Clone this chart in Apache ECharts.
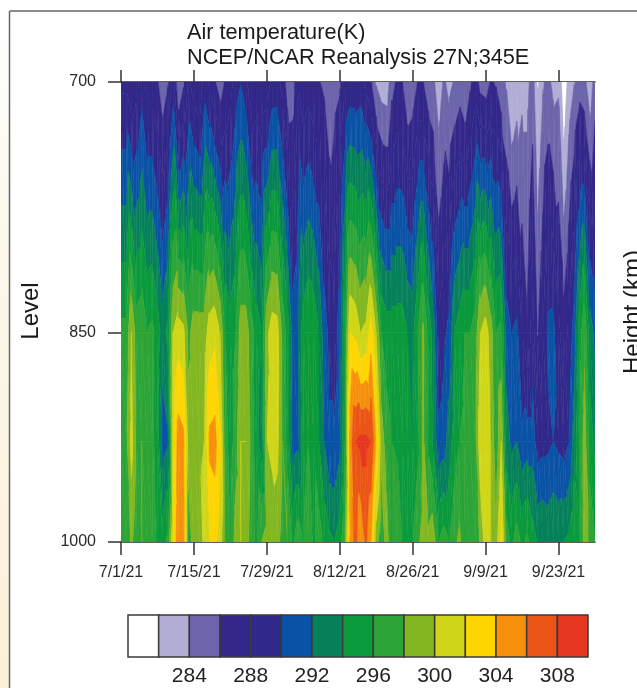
<!DOCTYPE html>
<html><head><meta charset="utf-8">
<style>html,body{margin:0;padding:0;background:#fff;overflow:hidden}#c{width:637px;height:688px}</style>
<script src="https://cdn.jsdelivr.net/npm/echarts@6/dist/echarts.min.js"></script>
</head><body><div id="c"></div>
<script>
const levels = [700, 850, 925, 1000];
const tickLevels = [700, 850, 1000];
const tickLabels = ['7/1/21','7/15/21','7/29/21','8/12/21','8/26/21','9/9/21','9/23/21'];
const t700 = [287.6,287.6,286.3,287.3,289.1,287.3,287.2,286.2,284.8,285.8,288.9,284.2,285.7,288.4,286.9,286.2,289,287.6,286.2,285,
286.2,287.3,288.9,289.9,288.7,286.2,286.8,286.3,286.7,288.7,288.8,287.2,285,285.1,287.9,286.5,287.2,286.3,286.1,285.7,
284.5,285.3,285.7,287.8,288.7,288.6,288.9,287.4,286.2,283.8,283,282.85,285.3,286.3,286.1,284.4,284.8,286.1,286.1,284.8,
284.3,283,284.3,283.4,284.2,284.9,284.1,285.6,287,285.3,285,286.2,285.8,284.6,283.8,282,282.8,283.4,283.4,285,
281.9,283.8,284.5,283.5,283.7,280.6,282.8,283.9,285,284.5,282.8,285];
const t850 = [296.5,296.5,300,297,297.5,296,296.5,295,293,294.5,300,301,300.5,297.5,299,299,299,301,301.5,300,
296,295,296,299,299,297,295,294,299.5,301,300.8,297.5,295,291,292,295,296,295.5,294,291,
289.5,289,291,296,302,301.5,300,300.5,303,300,296,295,295,295,295,294,293.5,296,298.5,295.5,
293,288.5,289.5,290.5,294,295,296,296,297,300,301,299,296,296.5,291,290,290.5,288,286.4,289,
285.9,288,290.5,290.6,288.5,286.9,288.5,290.9,295,297.5,293,291.5];
const t925 = [297,297.5,300.8,297.5,298,296.5,296.5,295,291,291.8,301.5,305,304.5,299,299.5,299.5,300,304.5,304.8,302.5,
297,295,297,300,300,297.5,294.5,293,300,300.8,300.5,298,295,291,291.5,295,296,295.5,294,292,
290.3,290.3,291.3,296,305,308,308.5,308.5,308,304,299,297,296,295.5,295,294.5,294,295.5,298.5,295.5,
293.5,290.5,291,293,295,296,296.5,296.5,297.5,301.5,302,300,296.5,300,293,291.5,292,290.5,291,291,
289,289.3,289.5,290,289.5,289,290,293,296,299,295,293.5];
const t1000 = [297,296,298.5,296.5,298,296,297.5,295.5,295,296.5,302,305.5,305,297,299,298,301,302,302.5,301,
298,296,299,300,299,297,295.5,298,299,298,299,297,298,295.5,297.5,296,297.5,295.5,297,295.5,
294.5,294,295,298,304.5,306.8,304,306.5,304,299,296.5,299,296,298,296,295.5,296,297.5,299,298.5,
299,296,297,296,297.5,298.5,296,298,296,298.5,301,300,299,302.5,297,295.5,297,295.5,296.5,295,
293.8,294,293.5,294,293.6,294,294.5,296,295,299,297.5,296];
const fields = [t700, t850, t925, t1000];
const bandEdges = [280,282,284,286,288,290,292,294,296,298,300,302,304,306,308,310];
const bandColors = ['#ffffff','#b1aed6','#6c65ab','#33278a','#30288a','#0a52a5','#06805a','#0a9a3c','#2da437','#83b722','#d0d617','#ffd500','#f6900b','#ea5515','#e7361f'];
const colorbarTicks = [284,288,292,296,300,304,308];

const FONT = '"Liberation Sans", Arial, sans-serif';
const days = [];
{ const ml = [[7,31],[8,31],[9,30]];
  for (const [m,n] of ml) for (let d=1;d<=n;d++) days.push(m+'/'+d+'/21'); }

function clip(poly, limit, keepAbove){
  const out=[];
  for(let k=0;k<poly.length;k++){
    const a=poly[k], b=poly[(k+1)%poly.length];
    const ia=keepAbove? a[2]>=limit : a[2]<=limit;
    const ib=keepAbove? b[2]>=limit : b[2]<=limit;
    if(ia) out.push(a);
    if(ia!==ib){
      const t=(limit-a[2])/(b[2]-a[2]);
      out.push([a[0]+t*(b[0]-a[0]),a[1]+t*(b[1]-a[1]),limit]);
    }
  }
  return out;
}
function bandsOf(tri, children){
  const vs=tri.map(p=>p[2]);
  const mn=Math.min(...vs), mx=Math.max(...vs);
  for(let b=0;b<bandColors.length;b++){
    const lo=b===0?-Infinity:bandEdges[b], hi=b===bandColors.length-1?Infinity:bandEdges[b+1];
    if(hi<mn||lo>mx) continue;
    let poly=tri;
    if(isFinite(lo)) poly=clip(poly,lo,true);
    if(poly.length&&isFinite(hi)) poly=clip(poly,hi,false);
    if(poly.length>=3){
      children.push({type:'polygon',silent:true,shape:{points:poly.map(p=>[p[0],p[1]])},
        style:{fill:bandColors[b],stroke:bandColors[b],lineWidth:0.5}});
    }
  }
}
function renderCell(params, api){
  const i=api.value(0), j=api.value(2);
  const P=(di,dj)=>{const c=api.coord([i+di,levels[j+dj]]);return [c[0],c[1],fields[j+dj][i+di]];};
  const a=P(0,0),b=P(1,0),c=P(1,1),d=P(0,1);
  const children=[];
  bandsOf([a,b,c],children);
  bandsOf([a,c,d],children);
  return {type:'group',children};
}
const cells=[];
for(let j=0;j<levels.length-1;j++) for(let i=0;i<days.length-1;i++) cells.push([i,levels[j],j]);
const boxes=bandColors.map((c,b)=>[bandEdges[b],bandEdges[b+1],b]);

const tickEvery14=(idx)=>idx%14===0;
const axisDark={lineStyle:{color:'#2a2a2a',width:1.5}};
const svgFont=FONT.replace(/"/g,"'");
const chart=echarts.init(document.getElementById('c'),null,{renderer:'canvas'});
chart.setOption({
  animation:false,
  backgroundColor:'#ffffff',
  textStyle:{fontFamily:FONT},
  title:{left:182,top:16,text:'Air temperature(K)\nNCEP/NCAR Reanalysis 27N;345E',
    textStyle:{fontFamily:FONT,fontSize:21.7,fontWeight:'normal',color:'#1a1a1a',lineHeight:25}},
  grid:[{left:121,top:82,width:474,height:460},{left:128,top:615,width:460,height:42}],
  xAxis:[
    {type:'category',gridIndex:0,data:days,boundaryGap:false,position:'bottom',
     axisLine:axisDark,axisTick:{show:true,length:13,interval:tickEvery14,lineStyle:{color:'#333',width:1.5}},
     axisLabel:{interval:tickEvery14,margin:23,fontSize:16,color:'#2a2a2a',fontFamily:FONT,
       formatter:(v,i)=>tickLabels[i/14]||''},splitLine:{show:false}},
    {type:'category',gridIndex:0,data:days,boundaryGap:false,position:'top',
     axisLine:axisDark,axisTick:{show:true,length:12,interval:tickEvery14,lineStyle:{color:'#333',width:1.5}},
     axisLabel:{show:false},splitLine:{show:false}},
    {type:'value',gridIndex:1,min:280,max:310,interval:4,position:'bottom',
     axisLine:{show:false},axisTick:{show:false},splitLine:{show:false},
     axisLabel:{margin:9,fontSize:21,color:'#222',fontFamily:FONT,showMinLabel:true,showMaxLabel:false,hideOverlap:false,
       formatter:v=>colorbarTicks.includes(v)?String(v):''}}
  ],
  yAxis:[
    {type:'log',gridIndex:0,min:700,max:1000,inverse:true,position:'left',
     axisLine:axisDark,
     axisTick:{show:true,length:13,customValues:tickLevels,lineStyle:{color:'#333',width:1.5}},
     axisLabel:{margin:25,fontSize:16,color:'#2a2a2a',fontFamily:FONT,customValues:tickLevels,formatter:v=>String(Math.round(v))},
     minorTick:{show:false},splitLine:{show:false}},
    {type:'log',gridIndex:0,min:700,max:1000,inverse:true,position:'right',
     axisLine:axisDark,axisTick:{show:false},axisLabel:{show:false},splitLine:{show:false}},
    {type:'value',gridIndex:1,min:0,max:1,show:false}
  ],
  series:[
    {type:'custom',name:'Air temperature',coordinateSystem:'cartesian2d',xAxisIndex:0,yAxisIndex:0,
     data:cells,encode:{x:0,y:1},renderItem:renderCell,clip:true,silent:true,z:1,progressive:0},
    {type:'custom',name:'Colour scale',coordinateSystem:'cartesian2d',xAxisIndex:2,yAxisIndex:2,
     data:boxes,encode:{x:[0,1]},silent:true,progressive:0,
     renderItem:(p,api)=>{
       const a=api.coord([api.value(0),0]),b=api.coord([api.value(1),1]);
       return {type:'rect',shape:{x:a[0],y:b[1],width:b[0]-a[0],height:a[1]-b[1]},
         style:{fill:bandColors[api.value(2)],stroke:'#3a3a3a',lineWidth:1.5}};
     }}
  ],
  graphic:[
    {type:'rect',z:-1,shape:{x:0,y:0,width:9,height:688},silent:true,
     style:{fill:new echarts.graphic.LinearGradient(0,0,0,1,[{offset:0,color:'#ffffff'},{offset:0.35,color:'#fdf8ec'},{offset:1,color:'#fcf0d8'}])}},
    {type:'line',shape:{x1:9.5,y1:11,x2:637,y2:11},silent:true,style:{stroke:'#666',lineWidth:1.5}},
    {type:'line',shape:{x1:9.5,y1:11,x2:9.5,y2:688},silent:true,style:{stroke:'#666',lineWidth:1.5}},
    {type:'text',x:31,y:311,rotation:Math.PI/2,silent:true,
     style:{text:'Level',font:'24px '+svgFont,fill:'#1a1a1a',textAlign:'center',textVerticalAlign:'middle'}},
    {type:'text',x:633,y:312,rotation:Math.PI/2,silent:true,
     style:{text:'Height (km)',font:'24px '+svgFont,fill:'#1a1a1a',textAlign:'center',textVerticalAlign:'middle'}}
  ]
});
</script></body></html>
